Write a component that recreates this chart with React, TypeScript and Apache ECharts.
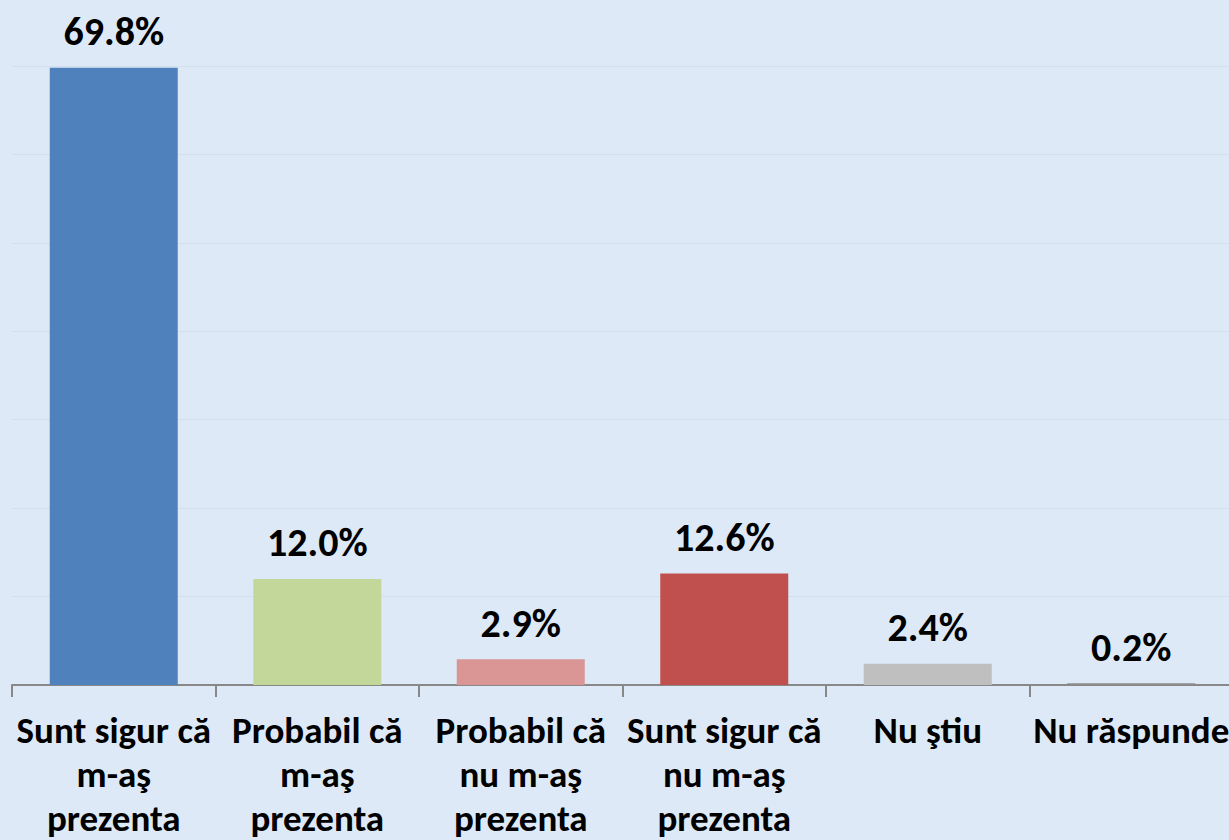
import React, { useEffect, useRef } from "react";
import * as echarts from "echarts";

const categories = [
  "Sunt sigur că\nm-aş\nprezenta",
  "Probabil că\nm-aş\nprezenta",
  "Probabil că\nnu m-aş\nprezenta",
  "Sunt sigur că\nnu m-aş\nprezenta",
  "Nu ştiu",
  "Nu răspunde",
];
const values = [69.8, 12.0, 2.9, 12.6, 2.4, 0.2];
const barColors = ["#4f81bd", "#c4d79b", "#d99694", "#c0504d", "#bfbfbf", "#8c8c8c"];

export default function App() {
  const ref = useRef<HTMLDivElement>(null);
  useEffect(() => {
    if (!ref.current) return;
    const chart = echarts.init(ref.current, undefined, { renderer: "svg" });
    const font = "Carlito, Lato, 'Open Sans', sans-serif";
    chart.setOption({
      animation: false,
      backgroundColor: "#dde9f6",
      grid: {
        left: 12,
        top: 66,
        width: 1221,
        bottom: 155,
        containLabel: false,
        outerBoundsMode: "none",
      },
      xAxis: {
        type: "category",
        data: categories,
        axisLine: { lineStyle: { color: "#888888", width: 2 } },
        axisTick: { show: true, length: 12, lineStyle: { color: "#888888", width: 2 } },
        axisLabel: {
          interval: 0,
          margin: 23,
          color: "#000000",
          fontFamily: font,
          fontWeight: "bold",
          fontSize: 37,
          lineHeight: 44,
        },
      },
      yAxis: {
        type: "value",
        min: 0,
        max: 70,
        interval: 10,
        axisLine: { show: false },
        axisTick: { show: false },
        axisLabel: { show: false },
        splitLine: { lineStyle: { color: "#d2dfed", width: 1 } },
      },
      series: [
        {
          type: "bar",
          barWidth: 128,
          data: values.map((v, i) => ({ value: v, itemStyle: { color: barColors[i] } })),
          label: {
            show: true,
            position: "top",
            distance: 16,
            color: "#000000",
            fontFamily: font,
            fontWeight: "bold",
            fontSize: 40,
            lineHeight: 40,
            formatter: (p: any) => p.value.toFixed(1) + "%",
          },
        },
      ],
    });
    return () => chart.dispose();
  }, []);
  return (
    <div
      ref={ref}
      style={{ position: "fixed", left: 0, top: 0, width: 1229, height: 840 }}
    />
  );
}
